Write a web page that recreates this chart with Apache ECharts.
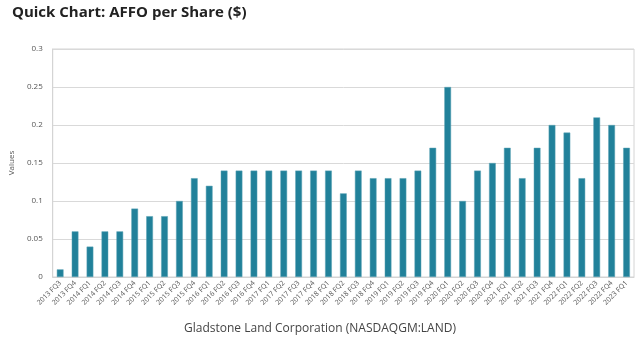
<!DOCTYPE html>
<html><head><meta charset="utf-8">
<script src="https://cdn.jsdelivr.net/npm/echarts@6/dist/echarts.min.js"></script>
<style>html,body{margin:0;padding:0;background:#fff}#c{width:640px;height:344px}</style>
</head><body><div id="c"></div>
<script>
const categories = ["2013 FQ3","2013 FQ4","2014 FQ1","2014 FQ2","2014 FQ3","2014 FQ4","2015 FQ1","2015 FQ2","2015 FQ3","2015 FQ4","2016 FQ1","2016 FQ2","2016 FQ3","2016 FQ4","2017 FQ1","2017 FQ2","2017 FQ3","2017 FQ4","2018 FQ1","2018 FQ2","2018 FQ3","2018 FQ4","2019 FQ1","2019 FQ2","2019 FQ3","2019 FQ4","2020 FQ1","2020 FQ2","2020 FQ3","2020 FQ4","2021 FQ1","2021 FQ2","2021 FQ3","2021 FQ4","2022 FQ1","2022 FQ2","2022 FQ3","2022 FQ4","2023 FQ1"];
const affo = [0.01,0.06,0.04,0.06,0.06,0.09,0.08,0.08,0.10,0.13,0.12,0.14,0.14,0.14,0.14,0.14,0.14,0.14,0.14,0.11,0.14,0.13,0.13,0.13,0.14,0.17,0.25,0.10,0.14,0.15,0.17,0.13,0.17,0.20,0.19,0.13,0.21,0.20,0.17];
const yTicks = [0,0.05,0.1,0.15,0.2,0.25,0.3];
const title = "Quick Chart: AFFO per Share ($)";
const subtitle = "Gladstone Land Corporation (NASDAQGM:LAND)";

const chart = echarts.init(document.getElementById('c'), null, {renderer:'canvas'});
chart.setOption({
  animation:false,
  backgroundColor:'#fff',
  title:[{text:title,left:7,top:0,textStyle:{fontFamily:'Open Sans',fontWeight:'bold',fontSize:15,color:'#222'}},
         {text:subtitle,left:'center',top:318,textStyle:{fontFamily:'Open Sans',fontWeight:'normal',fontSize:12,color:'#444'}}],
  grid:{left:52,right:6,top:49,bottom:67,show:true,borderColor:'#d4d4d4',borderWidth:1},
  xAxis:{type:'category',data:categories,
    axisLine:{show:true,lineStyle:{color:'#d4d4d4'}},axisTick:{show:false},
    axisLabel:{rotate:45,interval:0,fontSize:7,color:'#555',fontFamily:'Open Sans',margin:5}},
  yAxis:{type:'value',min:0,max:0.3,interval:0.05,name:'Values',nameLocation:'middle',nameGap:22,
    nameTextStyle:{fontSize:8,color:'#555',fontFamily:'Open Sans'},
    axisLine:{show:true,lineStyle:{color:'#d4d4d4'}},
    axisLabel:{fontSize:8,color:'#555',fontFamily:'Open Sans',margin:10,
      formatter:v=>{const t=yTicks.find(x=>Math.abs(x-v)<1e-9);return String(t!==undefined?t:v);}},
    splitLine:{lineStyle:{color:'#d9d9d9'}}},
  series:[{type:'bar',data:affo,barWidth:'45%',
    itemStyle:{color:'#21819a',borderColor:'#5aa3b5',borderWidth:0.5}}]
});
</script></body></html>
